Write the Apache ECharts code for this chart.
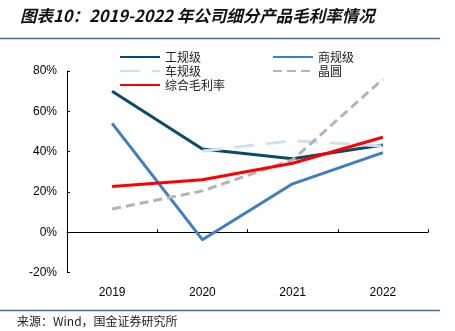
<!DOCTYPE html>
<html>
<head>
<meta charset="utf-8">
<script src="https://cdn.jsdelivr.net/npm/echarts@6/dist/echarts.min.js"></script>
<style>
  html, body { margin: 0; padding: 0; background: #fff; }
  #chart { width: 455px; height: 331px; }
</style>
</head>
<body>
<div id="chart"></div>
<script>
// Gross margin by product segment, 2019-2022 (%)
const years = ['2019', '2020', '2021', '2022'];
const industrialGrade = [70.0, 41.3, 36.4, 43.3];   // 工规级
const commercialGrade = [54.0, -3.7, 24.0, 39.5];   // 商规级
const automotiveGrade = [null, 40.3, 45.4, 42.8];   // 车规级
const wafer = [11.5, 20.5, 35.9, 76.0];             // 晶圆
const overallMargin = [22.7, 26.0, 34.2, 47.1];     // 综合毛利率
const yTicks = { min: -20, max: 80, interval: 20 };

const chart = echarts.init(document.getElementById('chart'), null, { renderer: 'canvas' });

const cjk = '"Noto Sans CJK SC", "Noto Sans", sans-serif';
const latin = '"Liberation Sans", Arial, sans-serif';

function lineSeries(name, data, color, width, type, z) {
  return {
    name, type: 'line', data, symbol: 'none', z,
    connectNulls: false,
    lineStyle: { color, width, type: type || 'solid', cap: 'butt', join: 'round' },
    itemStyle: { color },
    emphasis: { disabled: true }
  };
}

// Legend shows only the line stroke, no marker
const legendBase = {
  orient: 'vertical', itemGap: 0, itemWidth: 40, itemHeight: 10, top: 45,
  itemStyle: { opacity: 0 },
  textStyle: { fontFamily: cjk, fontSize: 12, color: '#222', lineHeight: 14 },
  selectedMode: false
};

chart.setOption({
  animation: false,
  backgroundColor: '#fff',
  grid: { left: 67, right: 27, top: 71, bottom: 58.5, containLabel: false },
  legend: [
    Object.assign({}, legendBase, { left: 114, data: ['工规级', '车规级', '综合毛利率'] }),
    Object.assign({}, legendBase, { left: 267, data: ['商规级', '晶圆'] })
  ],
  xAxis: {
    type: 'category', data: years, boundaryGap: true,
    axisLine: { lineStyle: { color: '#000', width: 1 } },
    axisTick: { show: true, inside: true, length: 3, alignWithLabel: false, lineStyle: { color: '#000' } },
    axisLabel: { color: '#000', fontFamily: latin, fontSize: 12, margin: 14 },
    splitLine: { show: false }
  },
  yAxis: {
    type: 'value', min: yTicks.min, max: yTicks.max, interval: yTicks.interval,
    axisLine: { show: true, lineStyle: { color: '#000', width: 1 } },
    axisTick: { show: true, inside: true, length: 3, lineStyle: { color: '#000' } },
    axisLabel: { color: '#000', fontFamily: latin, fontSize: 12, margin: 10, formatter: v => v + '%' },
    splitLine: { show: false }
  },
  series: [
    lineSeries('工规级', industrialGrade, '#0B4A6B', 3, 'solid', 2),
    lineSeries('商规级', commercialGrade, '#3F7EC0', 3, 'solid', 3),
    lineSeries('车规级', automotiveGrade, '#CFE0F2', 3, [20, 12], 4),
    lineSeries('晶圆', wafer, '#B4B4B4', 3, [9, 5], 5),
    lineSeries('综合毛利率', overallMargin, '#FF0000', 3, 'solid', 6)
  ],
  graphic: [
    {
      type: 'text', left: 20, top: 7,
      style: {
        text: '图表10：2019-2022 年公司细分产品毛利率情况',
        fontFamily: cjk, fontSize: 16.5, fontWeight: 'bold', fontStyle: 'italic', fill: '#111'
      }
    },
    {
      type: 'line', shape: { x1: 0, y1: 38.5, x2: 440, y2: 38.5 },
      style: { stroke: '#3F6F9A', lineWidth: 1.5 }
    },
    {
      type: 'line', shape: { x1: 0, y1: 310.5, x2: 440, y2: 310.5 },
      style: { stroke: '#3F6F9A', lineWidth: 1.5 }
    },
    {
      type: 'text', left: 17, top: 315,
      style: { text: '来源：Wind，国金证券研究所', fontFamily: cjk, fontSize: 12, fill: '#222' }
    }
  ]
});
</script>
</body>
</html>
